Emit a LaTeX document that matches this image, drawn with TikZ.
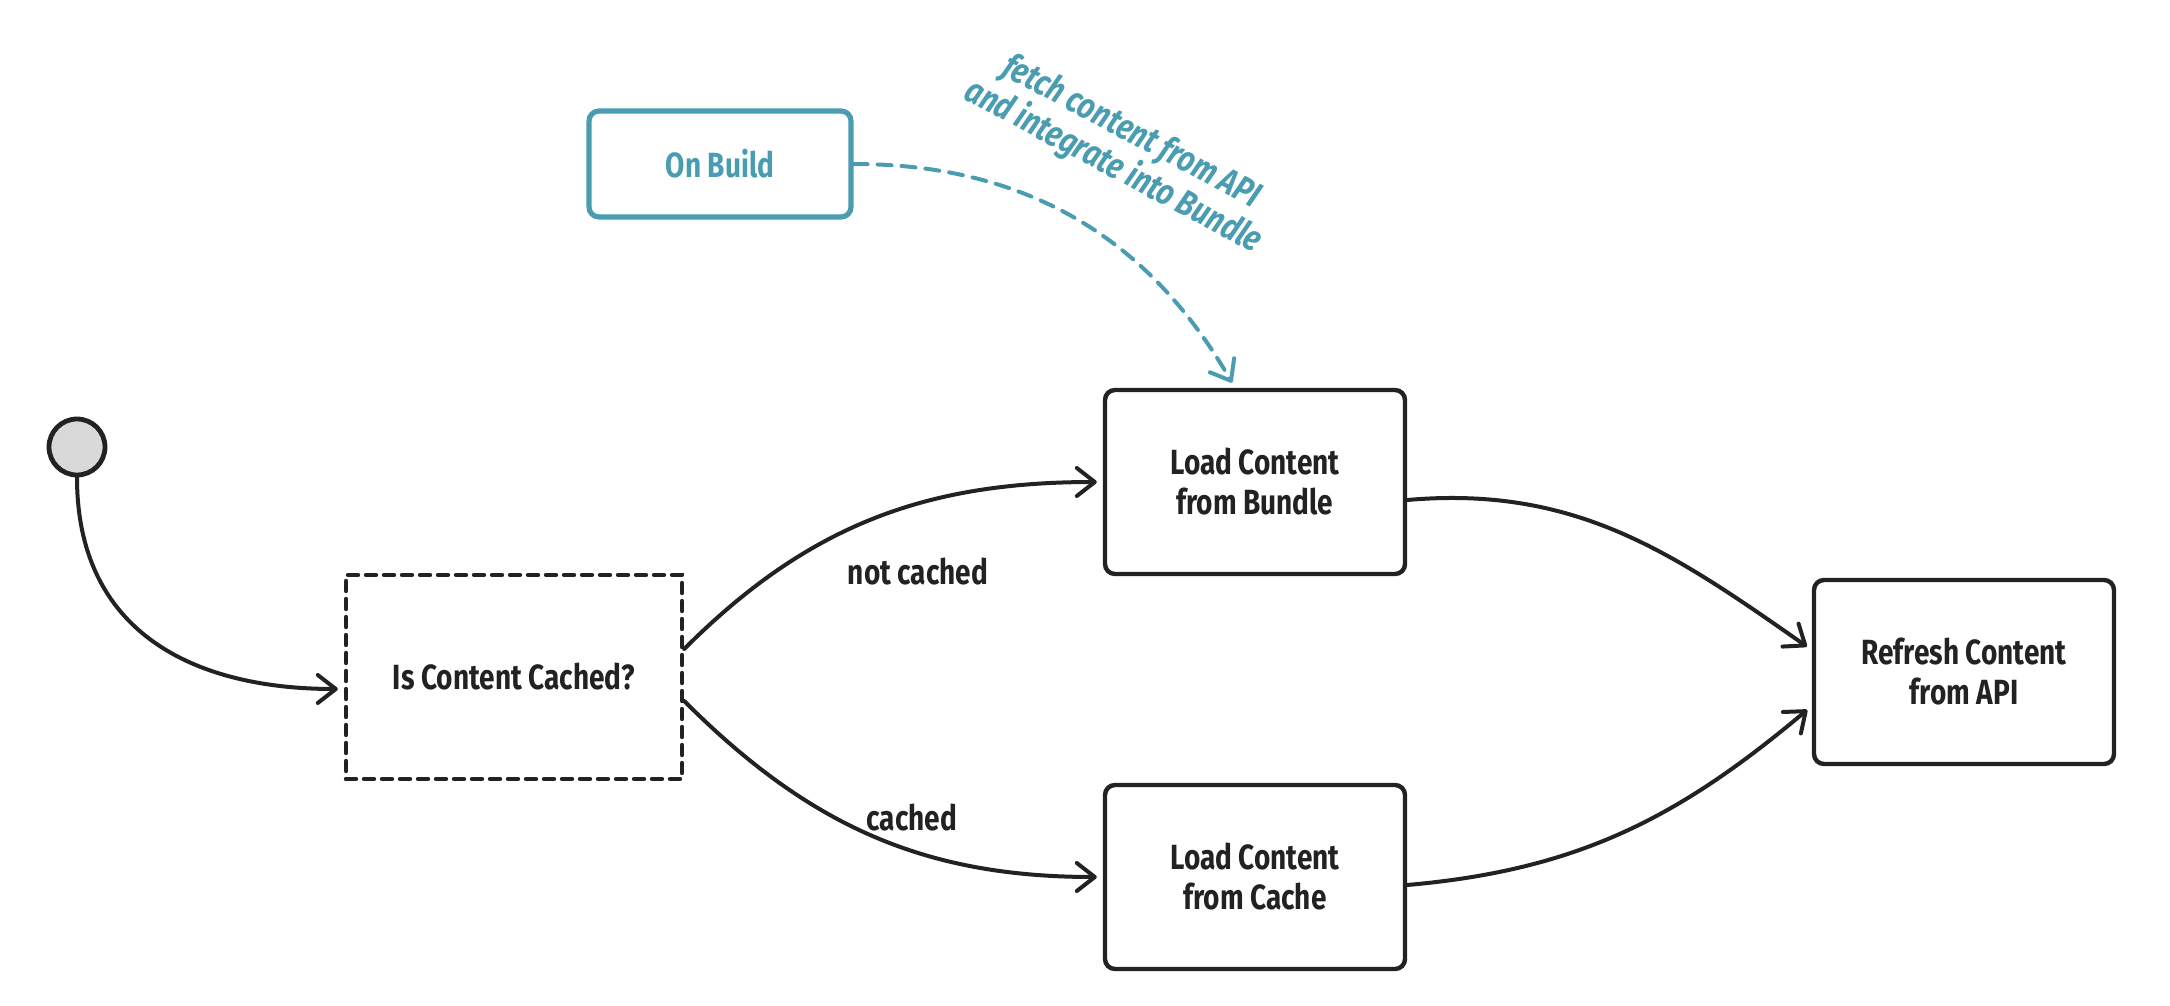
\documentclass[tikz,border=0pt]{standalone}
\definecolor{sketchink}{HTML}{222222}
\definecolor{sketchteal}{HTML}{4A9DB0}
\definecolor{sketchgray}{HTML}{D9D9D9}
\usepackage{fontspec}
\setmainfont{Fira Sans}[FakeStretch=0.80]
\usepackage{tikz}
\usetikzlibrary{arrows.meta, positioning}

\tikzset{
  statebox/.style={draw=sketchink, line width=2.2pt, rounded corners=5pt,
    minimum width=150pt, minimum height=92pt, align=center, text=sketchink,
    font=\fontsize{17.5}{20}\selectfont\bfseries},
  choicebox/.style={statebox, rounded corners=0pt, minimum width=168pt,
    minimum height=102pt, line cap=round, dash pattern=on 5pt off 4pt},
  buildbox/.style={statebox, draw=sketchteal, text=sketchteal, line width=2.6pt,
    minimum width=131pt, minimum height=53pt},
  startdot/.style={circle, draw=sketchink, fill=sketchgray, line width=2.4pt,
    minimum size=28pt, inner sep=0pt},
  flowlabel/.style={text=sketchink, font=\fontsize{17.5}{20}\selectfont\bfseries},
  notelabel/.style={text=sketchteal, align=center,
    font=\fontsize{18}{18.5}\selectfont\bfseries\itshape},
  flow/.style={draw=sketchink, line width=2pt, line cap=round,
    -{Straight Barb[length=9pt, width=14pt, line cap=round, line join=round]},
    shorten >=3pt},
  buildflow/.style={flow, draw=sketchteal, dash pattern=on 7pt off 5pt},
}

\begin{document}
\begin{tikzpicture}[x=0.5pt, y=-0.5pt]
    \useasboundingbox (0,0) rectangle (2170,1006);
    % states
    \node[startdot]  (start)   at (77,447)   {};
    \node[choicebox] (cached)  at (514,677)  {Is Content Cached?};
    \node[buildbox]  (build)   at (720,164)  {On Build};
    \node[statebox]  (bundle)  at (1255,482) {Load Content\\from Bundle};
    \node[statebox]  (cache)   at (1255,877) {Load Content\\from Cache};
    \node[statebox]  (refresh) at (1964,672) {Refresh Content\\from API};
    % labels
    \node[flowlabel] (lblnot)  at (918,572)  {not cached};
    \node[flowlabel] (lblyes)  at (912,818)  {cached};
    \node[notelabel, rotate=-28] (note) at (1122,150)
          {fetch content from API\\and integrate into Bundle};
    % transitions
    \draw[flow] (start.south) to[out=-90, in=180, looseness=1.15]
          ([yshift=-6pt]cached.west);
    \draw[flow] ([yshift=14pt]cached.east) to[out=45, in=180] (bundle.west);
    \draw[flow] ([yshift=-12pt]cached.east) to[out=-45, in=180] (cache.west);
    \draw[flow] ([yshift=-9pt]bundle.east) to[out=5, in=145]
          ([yshift=11pt]refresh.west);
    \draw[flow] ([yshift=-4pt]cache.east) to[out=5, in=-140]
          ([yshift=-17pt]refresh.west);
    \draw[buildflow] (build.east) to[out=0, in=120]
          ([xshift=-10pt]bundle.north);
\end{tikzpicture}
\end{document}
